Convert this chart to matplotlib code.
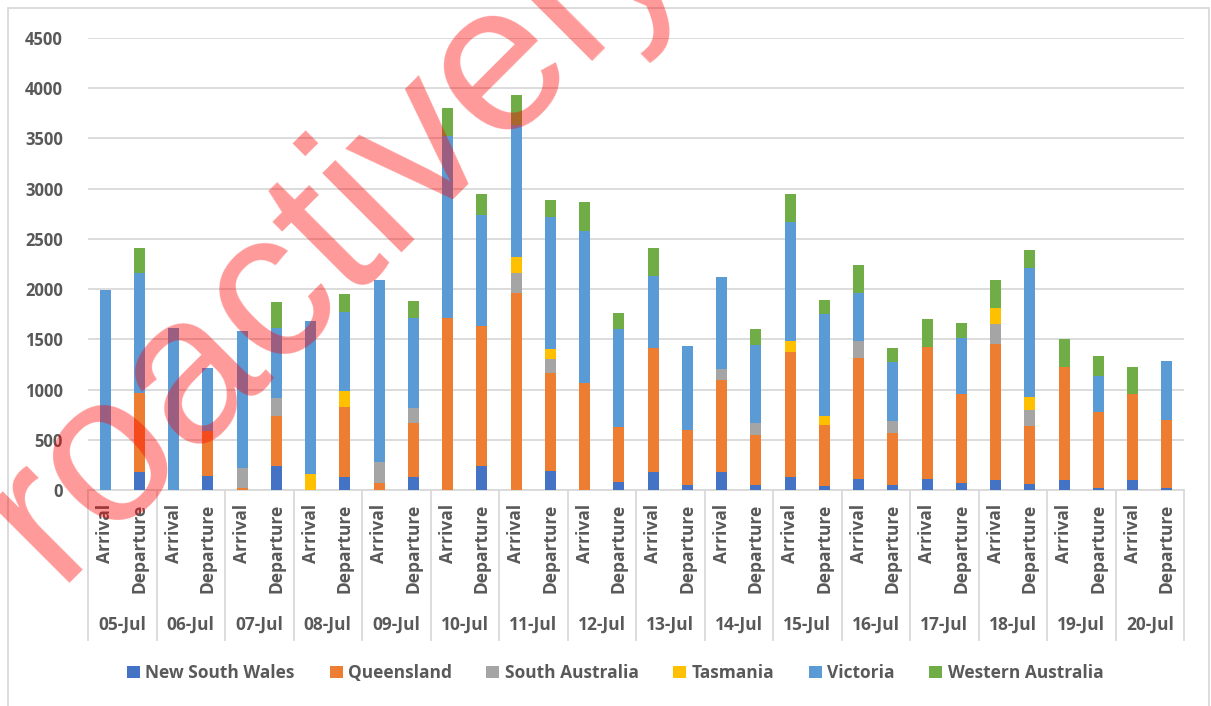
import matplotlib
matplotlib.use("Agg")
import matplotlib.pyplot as plt
import matplotlib.transforms as mtransforms
from matplotlib.patches import Rectangle
import numpy as np

# Data (people per day, stacked by state)
dates = ["05-Jul", "06-Jul", "07-Jul", "08-Jul", "09-Jul", "10-Jul", "11-Jul", "12-Jul",
         "13-Jul", "14-Jul", "15-Jul", "16-Jul", "17-Jul", "18-Jul", "19-Jul", "20-Jul"]
kinds = ["Arrival", "Departure"]

# order: 05 Arr, 05 Dep, 06 Arr, 06 Dep, ...
nsw = [0, 175, 0, 140, 0, 240, 0, 125, 0, 125, 0, 240, 0, 190, 0, 75,
       180, 45, 180, 50, 125, 35, 110, 45, 105, 70, 95, 55, 95, 20, 95, 20]
qld = [0, 790, 0, 450, 20, 495, 0, 705, 70, 545, 1715, 1390, 1965, 970, 1065, 555,
       1230, 555, 915, 500, 1245, 610, 1200, 520, 1315, 885, 1355, 585, 1125, 755, 865, 680]
sa = [0, 0, 0, 0, 195, 185, 0, 0, 210, 145, 0, 0, 200, 145, 0, 0,
      0, 0, 110, 120, 0, 0, 170, 125, 0, 0, 200, 155, 0, 0, 0, 0]
tas = [0, 0, 0, 0, 0, 0, 155, 160, 0, 0, 0, 0, 155, 95, 0, 0,
       0, 0, 0, 0, 115, 95, 0, 0, 0, 0, 160, 135, 0, 0, 0, 0]
vic = [1990, 1195, 1615, 620, 1370, 697, 1525, 785, 1815, 895, 1810, 1110, 1315, 1320, 1515, 970,
       720, 835, 920, 775, 1180, 1015, 480, 580, 0, 555, 0, 1280, 0, 360, 0, 580]
wa = [0, 245, 0, 0, 0, 256, 0, 180, 0, 170, 280, 210, 300, 165, 290, 165,
      275, 0, 0, 155, 285, 140, 280, 145, 280, 150, 280, 180, 280, 200, 260, 0]

states = ["New South Wales", "Queensland", "South Australia", "Tasmania", "Victoria", "Western Australia"]
series = [nsw, qld, sa, tas, vic, wa]
colors = ["#4472C4", "#ED7D31", "#A5A5A5", "#FFC000", "#5B9BD5", "#70AD47"]

TEXT = "#595959"
GRID = "#D9D9D9"
FONT = "Open Sans"

W, H = 1211, 706
fig = plt.figure(figsize=(W / 100, H / 100), dpi=100)
ax = fig.add_axes([88 / W, 1 - 490 / H, (1184 - 88) / W, (490 - 38) / H])

x = np.arange(len(nsw))
bottom = np.zeros(len(nsw))
for name, vals, col in zip(states, series, colors):
    vals = np.array(vals, dtype=float)
    ax.bar(x, vals, width=0.32, bottom=bottom, color=col, label=name, zorder=3)
    bottom += vals

ax.set_xlim(-0.5, len(nsw) - 0.5)
ax.set_ylim(0, 4500)
ax.set_yticks(np.arange(0, 4501, 500))
ax.yaxis.grid(True, color=GRID, linewidth=1.3, zorder=0)
for s in ["top", "right", "left"]:
    ax.spines[s].set_visible(False)
ax.spines["bottom"].set_color(GRID)
ax.spines["bottom"].set_linewidth(1.3)
ax.tick_params(axis="y", length=0, pad=18, labelsize=12, labelcolor=TEXT)
for lab in ax.get_yticklabels():
    lab.set_fontweight("bold")
    lab.set_fontfamily(FONT)
ax.set_xticks([])

# two-level category axis
trans = mtransforms.blended_transform_factory(ax.transData, ax.transAxes)
y_kind = -14 / 452
y_date = -135 / 452
y_sep = -150 / 452
for i in range(len(nsw)):
    ax.text(x[i], y_kind, kinds[i % 2], rotation=90, ha="center", va="top",
            transform=trans, fontsize=12.5, fontweight="bold", color=TEXT,
            family=FONT, clip_on=False)
for j, d in enumerate(dates):
    ax.text(2 * j + 0.5, y_date, d, ha="center", va="center", transform=trans,
            fontsize=12.5, fontweight="bold", color=TEXT, family=FONT, clip_on=False)
for k in range(len(dates) + 1):
    ax.plot([2 * k - 0.5, 2 * k - 0.5], [0, y_sep], transform=trans, color=GRID,
            linewidth=1.3, clip_on=False)

leg = fig.legend(loc="center", bbox_to_anchor=(0.508, 1 - 673 / H), ncol=6, frameon=False,
                 handlelength=0.75, handleheight=0.75, handletextpad=0.3, columnspacing=2.0,
                 prop={"family": FONT, "weight": "bold", "size": 12.5})
for t in leg.get_texts():
    t.set_color(TEXT)

# chart area border
fig.patches.append(Rectangle((8 / W, -0.01), (1209 - 8) / W, 1 - 8 / H + 0.01,
                             transform=fig.transFigure, fill=False, edgecolor=GRID,
                             linewidth=1.3))

# watermark overlay
fig.text(56 / W, 1 - 583 / H, "roactively", rotation=45, rotation_mode="anchor",
         ha="left", va="baseline", fontsize=152, family="Liberation Sans",
         color="red", alpha=0.4, zorder=10)

fig.savefig("out.png", dpi=100)
